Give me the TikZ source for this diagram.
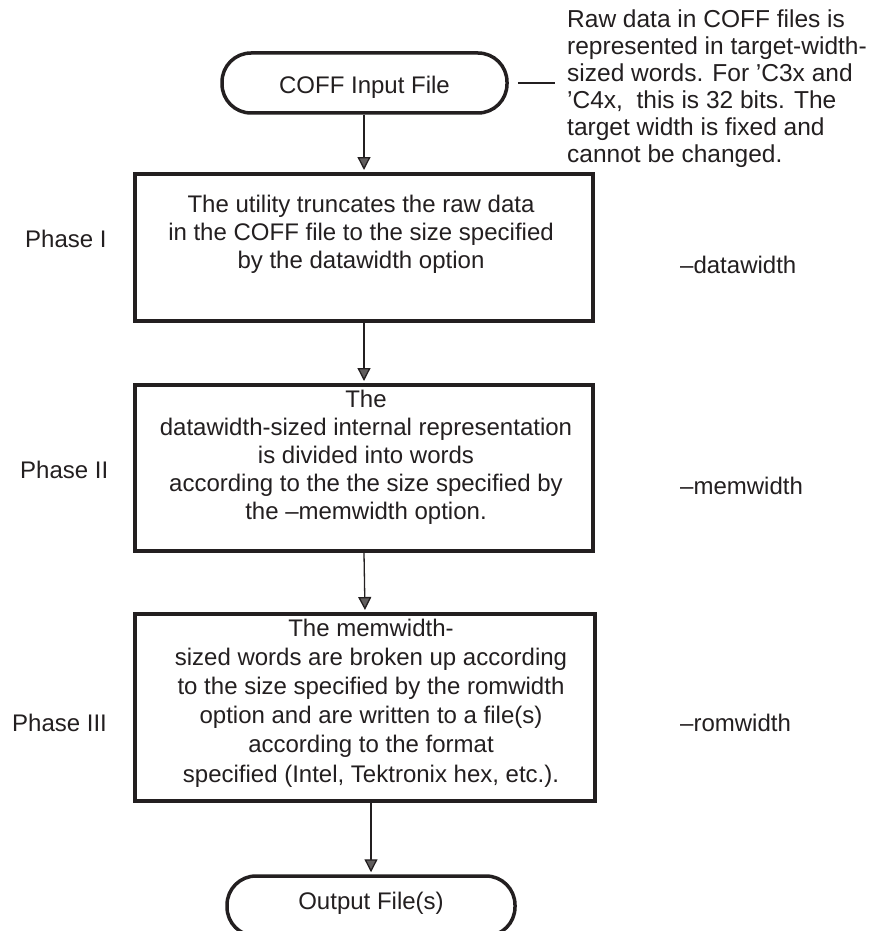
\documentclass[tikz,border=0pt]{standalone}
\usepackage{fontspec}
\setmainfont{Liberation Sans}
\usetikzlibrary{arrows.meta}
\definecolor{ink}{RGB}{35,31,32}
\begin{document}
\begin{tikzpicture}[x=1pt,y=-1pt,
  every node/.style={inner sep=0pt, text=ink},
  txt/.style={font=\fontsize{24}{28}\selectfont},
  procbox/.style={draw=ink, line width=4pt, rectangle},
  term/.style={draw=ink, line width=3.5pt, rounded corners=29pt, minimum height=60pt,
    font=\fontsize{24}{28}\selectfont, text depth=0pt},
  flow/.style={draw=ink, line width=1.3pt,
    -{Triangle[width=13pt,length=13pt,fill=ink!72]}, shorten >=2pt},
]
\clip (0,0) rectangle (868,931);
\fill[white] (0,0) rectangle (868,931);

% terminators
\node[term, minimum width=285pt, text height=22pt] (coff) at (364.5,83) {COFF Input File};
\node[term, minimum width=288pt, text height=6pt] (out) at (371,906) {Output File(s)};

% process boxes
\node[procbox, minimum width=458pt, minimum height=147pt] (b1) at (364,247.5) {};
\node[procbox, minimum width=458pt, minimum height=166pt] (b2) at (364,468) {};
\node[procbox, minimum width=460pt, minimum height=187pt] (b3) at (365,707.5) {};

% box texts
\node[txt, align=center, anchor=north] (t1) at (361,194.5)
  {The utility truncates the raw data\\in the COFF file to the size specified\\by the datawidth option};
\node[txt, align=center, anchor=north] (t2) at (366,389.5)
  {The\\datawidth-sized internal representation\\is divided into words\\according to the the size specified by\\the –memwidth option.};
\node[align=center, anchor=north, font=\fontsize{24}{29.2}\selectfont] (t3) at (371,618.5)
  {The memwidth-\\sized words are broken up according\\to the size specified by the romwidth\\option and are written to a file(s)\\according to the format\\specified (Intel, Tektronix hex, etc.).};

% phase labels
\node[txt, anchor=base west] (p1) at (25,247) {Phase I};
\node[txt, anchor=base west] (p2) at (20,478) {Phase II};
\node[txt, anchor=base west] (p3) at (12,731) {Phase III};

% option labels
\node[txt, anchor=base west] (o1) at (680,273) {–datawidth};
\node[txt, anchor=base west] (o2) at (680,494) {–memwidth};
\node[txt, anchor=base west] (o3) at (680,731) {–romwidth};

% note
\node[anchor=north west, align=left, font=\fontsize{24.5}{27}\selectfont] (note) at (567,9.5)
  {Raw data in COFF files is\\represented in target-width-\\sized words. For ’C3x and\\’C4x,\ \ this is 32 bits. The\\target width is fixed and\\cannot be changed.};
\coordinate (noteend) at (555,0);
\draw[ink, line width=1.2pt] ([xshift=9pt]coff.east) -- (noteend |- coff.east);

% flow arrows
\draw[flow] (coff.south -| b1.north) -- (b1.north);
\draw[flow] (b1.south) -- (b2.north);
\draw[flow] (b2.south) -- (b3.north);
\draw[flow] (b3.south -| out.north) -- (out.north);
\end{tikzpicture}
\end{document}
